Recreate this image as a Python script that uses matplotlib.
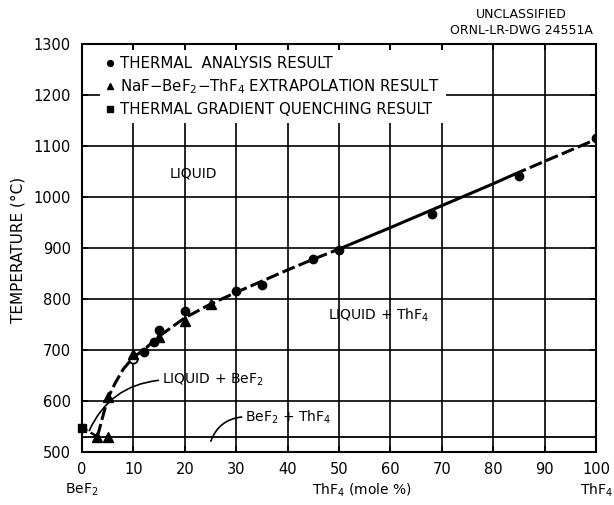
import matplotlib
matplotlib.use("Agg")
import matplotlib.pyplot as plt

plt.rcParams['font.family'] = ['DejaVu Sans']

# ThF4 (mole %) and temperature (°C) of each measured point
thermal_x = [12, 14, 15, 20, 30, 35, 45, 50, 68, 85, 100]
thermal_t = [697, 716, 740, 776, 816, 827, 879, 897, 967, 1041, 1115]
thermal_open_x = [10]
thermal_open_t = [683]
extrap_x = [3, 5, 5, 10, 15, 20, 25]
extrap_t = [530, 530, 607, 693, 725, 757, 790]
quench_x = [0]
quench_t = [548]

# liquidus curve, drawn in three pieces (dashed / solid / dashed)
liq_low_x = [3, 4, 5, 6.5, 8, 10, 12, 15, 20, 25, 30, 35, 40, 45, 50]
liq_low_t = [530, 568, 605, 636, 662, 686, 700, 727, 763, 790, 813, 835, 857, 878, 898]
liq_mid_x = [50, 60, 70, 80, 84]
liq_mid_t = [898, 940, 983, 1026, 1044]
liq_high_x = [84, 90, 100]
liq_high_t = [1044, 1070, 1113]
bef2_liq_x = [0, 3]
bef2_liq_t = [548, 530]
eutectic_t = 530

x_ticks = list(range(0, 101, 10))
y_ticks = list(range(500, 1301, 100))

fig = plt.figure(figsize=(6.14, 5.05), dpi=100)
ax = fig.add_axes([82 / 614, 1 - 452 / 505, 514 / 614, 408 / 505])

ax.set_xlim(0, 100)
ax.set_ylim(500, 1300)
ax.set_xticks(x_ticks)
ax.set_yticks(y_ticks)
ax.set_xticklabels([str(v) for v in x_ticks], fontsize=10.5)
ax.set_yticklabels([str(v) for v in y_ticks], fontsize=10.5)
ax.tick_params(direction='in', length=4, width=1.2, top=True, right=True,
               labelsize=10.5)
ax.tick_params(axis='x', pad=7)
ax.tick_params(axis='y', pad=8)
ax.set_axisbelow(True)
ax.grid(True, color='black', linewidth=1.2)
for sp in ax.spines.values():
    sp.set_linewidth(1.5)

dash = (4.3, 1.4)
ax.plot(liq_low_x, liq_low_t, color='black', lw=2.2, dashes=dash, zorder=3)
ax.plot(liq_mid_x, liq_mid_t, color='black', lw=2.2, zorder=3)
ax.plot(liq_high_x, liq_high_t, color='black', lw=2.2, dashes=dash, zorder=3)
ax.plot(bef2_liq_x, bef2_liq_t, color='black', lw=1.8, dashes=(2.5, 1.5), zorder=3)
ax.axhline(eutectic_t, color='black', lw=1.3, zorder=2)

ax.plot(thermal_x, thermal_t, 'o', color='black', ms=6, zorder=4,
        label='THERMAL  ANALYSIS RESULT')
ax.plot(thermal_open_x, thermal_open_t, 'o', mfc='white', mec='black',
        mew=1.3, ms=6, zorder=4)
ax.plot(extrap_x, extrap_t, '^', color='black', ms=6.5, zorder=4,
        label=r'NaF$-$BeF$_2$$-$ThF$_4$ EXTRAPOLATION RESULT')
ax.plot(quench_x, quench_t, 's', color='black', ms=6, zorder=4, clip_on=False,
        label='THERMAL GRADIENT QUENCHING RESULT')

leg = ax.legend(loc='upper left', bbox_to_anchor=(0.035, 0.985), fontsize=10.8,
                handlelength=0.6, handletextpad=0.35, labelspacing=0.4,
                borderpad=0.4, borderaxespad=0, markerscale=0.7,
                frameon=True, fancybox=False)
leg.get_frame().set_facecolor('white')
leg.get_frame().set_edgecolor('none')
leg.get_frame().set_alpha(1)

# phase region labels
ax.text(21.7, 1047, 'LIQUID', fontsize=10, ha='center', va='center')
ax.text(47.9, 769, r'LIQUID + ThF$_4$', fontsize=10, ha='left', va='center')
ax.text(15.6, 641, r'LIQUID + BeF$_2$', fontsize=10, ha='left', va='center')
ax.text(31.7, 569, r'BeF$_2$ + ThF$_4$', fontsize=10, ha='left', va='center')
ax.annotate('', xy=(1.2, 537), xytext=(15.4, 641),
            arrowprops=dict(arrowstyle='-', lw=1.2,
                            connectionstyle='arc3,rad=0.3'))
ax.annotate('', xy=(24.9, 516), xytext=(31.6, 569),
            arrowprops=dict(arrowstyle='-', lw=1.2,
                            connectionstyle='arc3,rad=0.35'))

fig.text(18 / 614, 1 - 250 / 505, 'TEMPERATURE (°C)', rotation=90,
         fontsize=11, ha='center', va='center')
fig.text(362 / 614, 1 - 490 / 505, r'ThF$_4$ (mole %)', fontsize=10,
         ha='center', va='center')
fig.text(82 / 614, 1 - 490 / 505, r'BeF$_2$', fontsize=10,
         ha='center', va='center')
fig.text(596 / 614, 1 - 490 / 505, r'ThF$_4$', fontsize=10,
         ha='center', va='center')
fig.text(521 / 614, 1 - 14 / 505, 'UNCLASSIFIED', fontsize=9,
         ha='center', va='center')
fig.text(521 / 614, 1 - 31 / 505, 'ORNL-LR-DWG 24551A', fontsize=9,
         ha='center', va='center')

fig.savefig('out.png', dpi=100)
